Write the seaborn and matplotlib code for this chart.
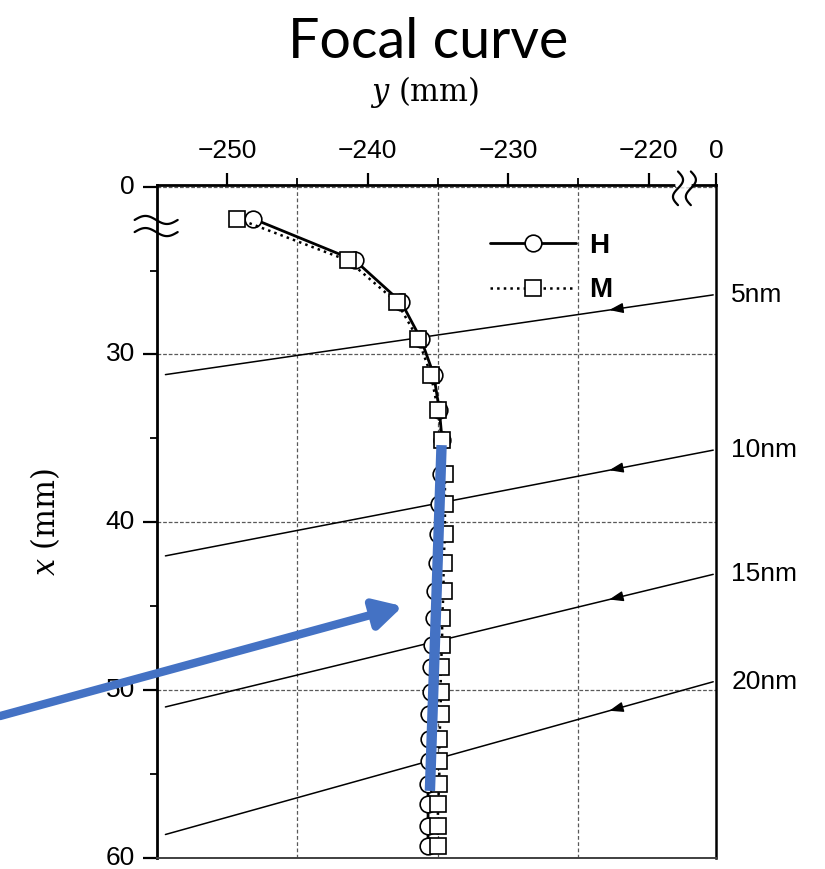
import numpy as np
import matplotlib
matplotlib.use("Agg")
import matplotlib.pyplot as plt
import seaborn as sns

# focal curve data: position along the grating (x, mm) vs focal distance (y, mm)
x_pos = [21.9, 24.4, 26.9, 29.1, 31.2, 33.3, 35.1, 37.1, 38.9, 40.7, 42.4, 44.1,
         45.7, 47.3, 48.6, 50.1, 51.4, 52.9, 54.2, 55.6, 56.8, 58.1, 59.3]
h_y = [-248.2, -240.9, -237.6, -236.2, -235.3, -234.9, -234.7, -234.8, -234.9,
       -235.0, -235.1, -235.2, -235.3, -235.4, -235.5, -235.5, -235.6, -235.6,
       -235.6, -235.7, -235.7, -235.7, -235.7]
m_y = [-249.3, -241.4, -237.9, -236.4, -235.5, -235.0, -234.7, -234.5, -234.5,
       -234.5, -234.6, -234.6, -234.7, -234.7, -234.8, -234.8, -234.8, -234.9,
       -234.9, -234.9, -235.0, -235.0, -235.0]

# incoming rays for each wavelength
ray_labels = ["5nm", "10nm", "15nm", "20nm"]
ray_y_left = [31.2, 42.0, 51.0, 58.6]
ray_y_right = [26.45, 35.7, 43.1, 49.5]
ray_x_left = -254.4
ray_x_right = -215.4
ray_arrow_x = -222.8

# blue highlight overlay
blue_line_y = [-234.74, -235.57]
blue_line_x = [35.4, 56.0]
blue_arrow_tip = (-237.5, 45.0)

x_ticks = [-250, -240, -230, -220, -215.2]
x_ticklabels = ["\u2212250", "\u2212240", "\u2212230", "\u2212220", "0"]
y_ticks = [20, 30, 40, 50, 60]
y_ticklabels = ["0", "30", "40", "50", "60"]

sns.set_style("white")
plt.rcParams["font.family"] = ["Liberation Sans", "DejaVu Sans"]
plt.rcParams["mathtext.fontset"] = "dejavuserif"
plt.rcParams["text.color"] = "black"
plt.rcParams["axes.labelcolor"] = "black"
plt.rcParams["xtick.color"] = "black"
plt.rcParams["ytick.color"] = "black"

fig = plt.figure(figsize=(8.25, 8.69), dpi=100)
ax = fig.add_axes([0.1903, 0.01266, 0.6776, 0.7745])

# rays
for lab, y0, y1 in zip(ray_labels, ray_y_left, ray_y_right):
    ax.plot([ray_x_left, ray_x_right], [y0, y1], color="black", lw=1.1, zorder=2)
    ya = np.interp(ray_arrow_x, [ray_x_left, ray_x_right], [y0, y1])
    yb = np.interp(ray_arrow_x + 0.6, [ray_x_left, ray_x_right], [y0, y1])
    ax.annotate("", xy=(ray_arrow_x, ya), xytext=(ray_arrow_x + 0.6, yb),
                arrowprops=dict(arrowstyle="-|>,head_length=0.6,head_width=0.22",
                                color="black", lw=1, mutation_scale=14,
                                shrinkA=0, shrinkB=0), zorder=2)
    ax.annotate(lab, xy=(ray_x_right, y1), xytext=(13, 0), textcoords="offset points",
                va="center", ha="left", fontsize=19, annotation_clip=False)

# H and M curves
sns.lineplot(x=h_y, y=x_pos, sort=False, estimator=None, ax=ax, color="black",
             lw=2.0, marker="o", markersize=12, markerfacecolor="white",
             markeredgecolor="black", markeredgewidth=1.2, label="H", zorder=4)
sns.lineplot(x=m_y, y=x_pos, sort=False, estimator=None, ax=ax, color="black",
             lw=1.8, linestyle=":", marker="s", markersize=11, markerfacecolor="white",
             markeredgecolor="black", markeredgewidth=1.2, label="M", zorder=5)

ax.set_xlim(-255, -215.2)
ax.set_ylim(60, 19.9)

ax.xaxis.tick_top()
ax.xaxis.set_label_position("top")
ax.set_xticks(x_ticks)
ax.set_xticklabels(x_ticklabels)
ax.set_xticks([-245, -235, -225], minor=True)
ax.set_yticks(y_ticks)
ax.set_yticklabels(y_ticklabels, va="center")
ax.set_yticks([25, 35, 45, 55], minor=True)
ax.tick_params(axis="x", which="major", direction="out", length=9, width=1.6,
               pad=7, labelsize=19, top=True, bottom=False)
ax.tick_params(axis="x", which="minor", direction="out", length=5, width=1.3,
               top=True, bottom=False)
ax.tick_params(axis="y", which="major", direction="out", length=10, width=1.6,
               pad=6, labelsize=19, left=True, right=False)
ax.tick_params(axis="y", which="minor", direction="out", length=5, width=1.3,
               left=True, right=False)

ax.grid(False)
ax.grid(which="minor", axis="x", color="0.35", lw=0.9, linestyle=(0, (3, 2)))
ax.grid(which="major", axis="y", color="0.35", lw=0.9, linestyle=(0, (3, 1.5)))
ax.set_axisbelow(True)

for side in ["left", "top"]:
    ax.spines[side].set_linewidth(2.0)
    ax.spines[side].set_color("black")
ax.spines["right"].set_linewidth(1.8)
ax.spines["right"].set_color("black")
ax.spines["bottom"].set_linewidth(1.4)
ax.spines["bottom"].set_color("0.25")
ax.spines["bottom"].set_linestyle((0, (4, 1)))

ax.set_xlabel(r"$y$ (mm)", fontfamily="DejaVu Serif", fontsize=22)
ax.xaxis.set_label_coords(0.479, 1.138)
ax.xaxis.label.set_va("center")
ax.set_ylabel(r"$x$ (mm)", fontfamily="DejaVu Serif", fontsize=22)
ax.yaxis.set_label_coords(-0.2, 0.5)
ax.yaxis.label.set_va("center")

leg = ax.legend(loc="upper left", bbox_to_anchor=(0.596, 0.929), frameon=False,
                fontsize=20, handlelength=3.1, handletextpad=0.45, labelspacing=0.67,
                borderpad=0, borderaxespad=0, numpoints=1)
for t in leg.get_texts():
    t.set_fontweight("bold")

# axis break marks
t = np.linspace(0, 1, 60)
for yc in [0.948, 0.930]:
    ax.plot(-0.04 + 0.077 * t, yc + 0.006 * np.sin(2 * np.pi * t), transform=ax.transAxes,
            color="black", lw=1.6, clip_on=False, zorder=6)
ax.plot([0.9315, 0.9515], [1, 1], transform=ax.transAxes, color="white", lw=4,
        clip_on=False, zorder=6)
s = np.linspace(0, 1, 60)
for xc in [0.932, 0.955]:
    ax.plot(xc + 0.009 * np.sin(2 * np.pi * s), 1.02 - 0.05 * s, transform=ax.transAxes,
            color="black", lw=1.6, clip_on=False, zorder=7)

# blue overlay: thick line along the flat part and an arrow pointing to it
blue = "#4472C4"
ax.plot(blue_line_y, blue_line_x, color=blue, lw=7.5, solid_capstyle="butt", zorder=8)
ax.annotate("", xy=blue_arrow_tip, xytext=(0.0, 0.176), textcoords="figure fraction",
            arrowprops=dict(arrowstyle="-|>,head_length=0.55,head_width=0.3",
                            color=blue, lw=6, mutation_scale=30, shrinkA=0, shrinkB=0),
            zorder=8, annotation_clip=False)

fig.text(0.5188, 0.9333, "Focal curve", fontfamily="Lato", fontsize=40,
         ha="center", va="baseline")

fig.savefig("out.png", dpi=100)
